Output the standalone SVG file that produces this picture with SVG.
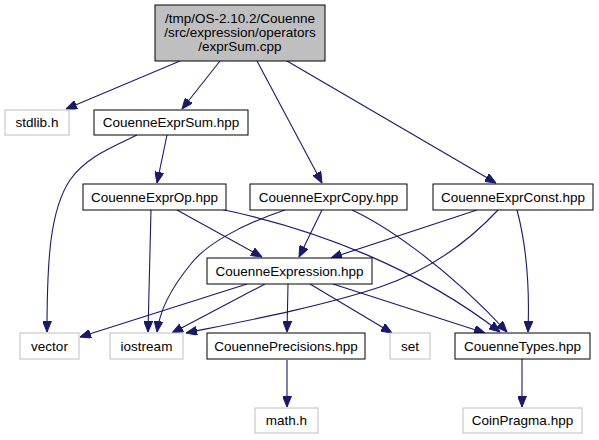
<svg xmlns="http://www.w3.org/2000/svg" width="599" height="440" viewBox="0 0 599 440">
<style>
text{font-family:"Liberation Sans",Arial,sans-serif;font-size:13.5px;fill:#000;text-anchor:middle}
.n rect{fill:#fff;stroke:#000;stroke-width:1}
.x rect{fill:#fff;stroke:#bfbfbf;stroke-width:1}
.r rect{fill:#bfbfbf;stroke:#000;stroke-width:1}
.e path{fill:none;stroke:#191970;stroke-width:1.1;marker-end:url(#a)}
</style>
<defs>
<marker id="a" viewBox="0 0 11 9" refX="11" refY="4.5" markerWidth="11" markerHeight="9" markerUnits="userSpaceOnUse" orient="auto">
<path d="M0,0 L11,4.5 L0,9 z" fill="#191970" stroke="#191970"/>
</marker>
</defs>
<g class="e" id="edges">
<path d="M180,61 L66,109"/>
<path d="M220,61 L182,109"/>
<path d="M257,61 L322,183"/>
<path d="M287,61 L496,183"/>
<path d="M137,135 C110,148 85,158 70,180 C50,210 47,260 47,332"/>
<path d="M167,135 L157,183"/>
<path d="M151,210 L148,332"/>
<path d="M177,210 L262,257"/>
<path d="M220,209 C320,230 420,270 500,332"/>
<path d="M285,210 C240,225 205,245 190,265 C170,290 160,310 157,332"/>
<path d="M322,210 L299,257"/>
<path d="M352,210 C380,223 440,260 507,332"/>
<path d="M477,210 L331,258"/>
<path d="M498,210 C470,240 430,270 380,287 C320,307 240,322 186,333"/>
<path d="M517,210 C525,240 530,280 528,332"/>
<path d="M247,284 L80,337"/>
<path d="M265,284 L172,333"/>
<path d="M288,284 L287,332"/>
<path d="M310,284 L392,333"/>
<path d="M333,284 L485,333"/>
<path d="M522,359 L522,407"/>
<path d="M287,360 L287,407"/>
</g>
<g id="root" class="r"><rect x="155" y="5" width="170" height="56"/>
<text x="240" y="23">/tmp/OS-2.10.2/Couenne</text>
<text x="240" y="37">/src/expression/operators</text>
<text x="240" y="50.5">/exprSum.cpp</text></g>
<g id="stdlib" class="x"><rect x="5" y="110" width="64" height="25"/><text x="37" y="127">stdlib.h</text></g>
<g id="exprsum" class="n"><rect x="94" y="110" width="154" height="25"/><text x="171" y="127">CouenneExprSum.hpp</text></g>
<g id="exprop" class="n"><rect x="83" y="184" width="143" height="26"/><text x="154.5" y="201.5">CouenneExprOp.hpp</text></g>
<g id="exprcopy" class="n"><rect x="250" y="184" width="157" height="26"/><text x="328.5" y="201.5">CouenneExprCopy.hpp</text></g>
<g id="exprconst" class="n"><rect x="433" y="184" width="160" height="26"/><text x="513" y="201.5">CouenneExprConst.hpp</text></g>
<g id="expression" class="n"><rect x="207" y="258" width="165" height="26"/><text x="289.5" y="275.5">CouenneExpression.hpp</text></g>
<g id="vector" class="x"><rect x="20" y="333" width="59" height="26"/><text x="49.5" y="350.5">vector</text></g>
<g id="iostream" class="x"><rect x="110" y="333" width="73" height="26"/><text x="146.5" y="350.5">iostream</text></g>
<g id="precisions" class="n"><rect x="207" y="333" width="158" height="26"/><text x="286" y="350.5">CouennePrecisions.hpp</text></g>
<g id="set" class="x"><rect x="390" y="333" width="40" height="26"/><text x="410" y="350.5">set</text></g>
<g id="types" class="n"><rect x="455" y="333" width="135" height="26"/><text x="522.5" y="350.5">CouenneTypes.hpp</text></g>
<g id="math" class="x"><rect x="255" y="408" width="63" height="25"/><text x="286.5" y="425">math.h</text></g>
<g id="coinpragma" class="x"><rect x="463" y="408" width="119" height="25"/><text x="522.5" y="425">CoinPragma.hpp</text></g>
</svg>
